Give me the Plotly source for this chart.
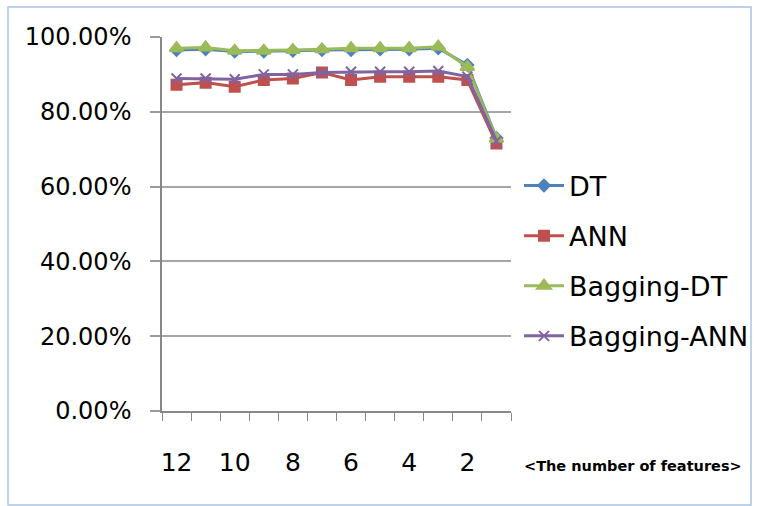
import plotly.graph_objects as go

features = [12, 11, 10, 9, 8, 7, 6, 5, 4, 3, 2, 1]
x_tick_vals = [12, 10, 8, 6, 4, 2]
x_tick_text = ["12", "10", "8", "6", "4", "2"]
y_tick_vals = [0, 0.2, 0.4, 0.6, 0.8, 1.0]

dt = [0.965, 0.967, 0.961, 0.961, 0.963, 0.965, 0.965, 0.967, 0.967, 0.970, 0.925, 0.730]
ann = [0.872, 0.878, 0.867, 0.885, 0.889, 0.905, 0.885, 0.894, 0.894, 0.894, 0.885, 0.715]
bag_dt = [0.970, 0.972, 0.963, 0.963, 0.965, 0.967, 0.970, 0.970, 0.970, 0.974, 0.920, 0.728]
bag_ann = [0.889, 0.889, 0.887, 0.900, 0.900, 0.905, 0.907, 0.907, 0.907, 0.909, 0.894, 0.722]

W, H = 757, 506
L, R, T, B = 162, 246, 37, 95
pw, ph = W - L - R, H - T - B

FONT = "DejaVu Sans"
fig = go.Figure()
series = [
    ("DT", dt, "#4F81BD", "diamond", 9),
    ("ANN", ann, "#C0504D", "square", 10),
    ("Bagging-DT", bag_dt, "#9BBB59", "triangle-up", 12),
    ("Bagging-ANN", bag_ann, "#8064A2", "x-thin-open", 10),
]
for name, vals, col, sym, sz in series:
    fig.add_trace(go.Scatter(
        x=features, y=vals, name=name, mode="lines+markers",
        legendgroup=name,
        line=dict(color=col, width=3),
        marker=dict(symbol=sym, size=sz, color=col, line=dict(color=col, width=2)),
    ))

fig.update_layout(
    width=W, height=H,
    margin=dict(l=L, r=R, t=T, b=B, autoexpand=False),
    paper_bgcolor="white", plot_bgcolor="white",
    font=dict(family=FONT, color="#000000"),
    showlegend=True,
    legend=dict(
        x=(519 - L) / pw, y=(411 - 261) / ph, xanchor="left", yanchor="middle",
        font=dict(family=FONT, size=27, color="#000000"),
        tracegroupgap=12, bgcolor="rgba(0,0,0,0)",
        itemwidth=40,
    ),
    xaxis=dict(
        range=[12.5, 0.5], tickmode="array", tickvals=x_tick_vals, ticktext=x_tick_text,
        ticks="", ticklabelstandoff=28,
        showgrid=False, zeroline=False,
        showline=True, linecolor="#888888", linewidth=1.5,
        tickfont=dict(family=FONT, size=25, color="#000000"),
        minor=dict(tickmode="linear", tick0=0.5, dtick=1, ticks="outside",
                   ticklen=8, tickcolor="#888888", tickwidth=1, showgrid=False),
    ),
    yaxis=dict(
        range=[0, 1.0], tickmode="array", tickvals=y_tick_vals, tickformat=".2%",
        ticks="outside", ticklen=10, tickcolor="#999999", tickwidth=1.5,
        ticklabelstandoff=14,
        showgrid=True, gridcolor="#A6A6A6", gridwidth=1.5,
        zeroline=False, showline=True, linecolor="#888888", linewidth=1.5,
        tickfont=dict(family=FONT, size=24, color="#000000"),
    ),
    annotations=[dict(
        text="<b>&lt;The number of features&gt;</b>", xref="paper", yref="paper",
        x=(633 - L) / pw, y=(411 - 466) / ph, xanchor="center", yanchor="middle",
        showarrow=False, font=dict(family="DejaVu Sans", size=14.5, color="#000000"),
    )],
    shapes=[dict(
        type="rect", xref="paper", yref="paper", layer="below",
        x0=(8 - L) / pw, x1=(751 - L) / pw, y0=(H - B - 505) / ph, y1=(H - B - 7) / ph,
        line=dict(color="#A9C4E2", width=1.5), fillcolor="rgba(0,0,0,0)",
    )],
)

fig.write_html(
    "out.html",
    config={"displayModeBar": False},
    post_script="document.body.style.margin='0';document.body.style.overflow='hidden';",
)
